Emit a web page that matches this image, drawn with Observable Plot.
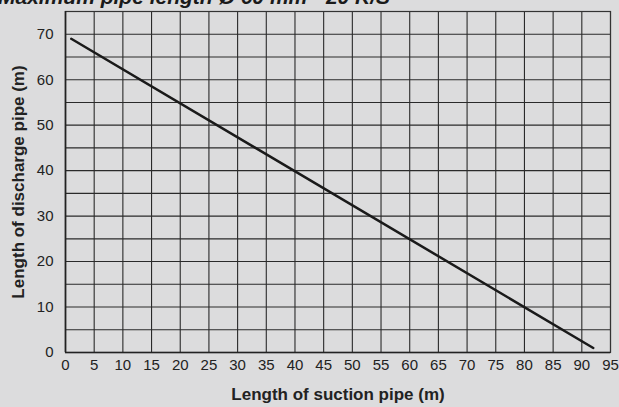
<!DOCTYPE html>
<html>
<head>
<meta charset="utf-8">
<script src="https://cdn.jsdelivr.net/npm/d3@7"></script>
<script src="https://cdn.jsdelivr.net/npm/@observablehq/plot@0.6"></script>
<style>
  html, body { margin: 0; padding: 0; background: #dcdcdd; overflow: hidden; }
  #wrap { position: relative; width: 619px; height: 407px; }
  #title { position: absolute; left: -2px; top: -15px; font: italic bold 21px "Liberation Sans", Arial, sans-serif; color: #1a1a1a; white-space: nowrap; }
</style>
</head>
<body>
<div id="wrap">
  <div id="title">Maximum pipe length Ø 60 mm - 20 K/S</div>
  <div id="chart"></div>
</div>
<script>
const suction = [1, 92];
const discharge = [69, 1];
const xTicks = d3.range(0, 96, 5);
const yTicks = d3.range(0, 71, 10);
const gridY = d3.range(0, 76, 5);
const xLabel = "Length of suction pipe (m)";
const yLabel = "Length of discharge pipe (m)";

const data = suction.map((s, i) => ({s, d: discharge[i]}));

const chart = Plot.plot({
  width: 619,
  height: 407,
  marginLeft: 65,
  marginRight: 9,
  marginTop: 11,
  marginBottom: 55,
  style: { background: "transparent", fontFamily: "'Liberation Sans', Arial, sans-serif", fontSize: "15px", color: "#222", overflow: "visible" },
  x: { domain: [0, 95], label: null },
  y: { domain: [0, 75], label: null },
  marks: [
    Plot.gridX(xTicks, { stroke: "#2a2a2a", strokeOpacity: 1, strokeWidth: 1.1 }),
    Plot.gridY(gridY, { stroke: "#2a2a2a", strokeOpacity: 1, strokeWidth: 1.1 }),
    Plot.frame({ stroke: "#333", strokeWidth: 1.2 }),
    Plot.ruleX([0], { stroke: "#222", strokeWidth: 1.6 }),
    Plot.ruleY([0], { stroke: "#222", strokeWidth: 1.6 }),
    Plot.axisX(xTicks, { tickSize: 0, tickPadding: 7, fontSize: 15, fontFamily: "'Liberation Sans Narrow', 'Liberation Sans', Arial, sans-serif", label: null }),
    Plot.axisY(yTicks, { tickSize: 0, tickPadding: 12, fontSize: 15, label: null }),
    Plot.line(data, { x: "s", y: "d", stroke: "#1a1a1a", strokeWidth: 2.5 }),
    Plot.text([xLabel], { frameAnchor: "bottom", dy: 47, fontSize: 17, fontWeight: "bold", fontFamily: "'Liberation Sans', Arial, sans-serif", fill: "#222" }),
    Plot.text([yLabel], { frameAnchor: "left", dx: -47, rotate: -90, textAnchor: "middle", fontSize: 17, fontWeight: "bold", fontFamily: "'Liberation Sans', Arial, sans-serif", fill: "#222" })
  ]
});
document.getElementById("chart").appendChild(chart);
</script>
</body>
</html>
